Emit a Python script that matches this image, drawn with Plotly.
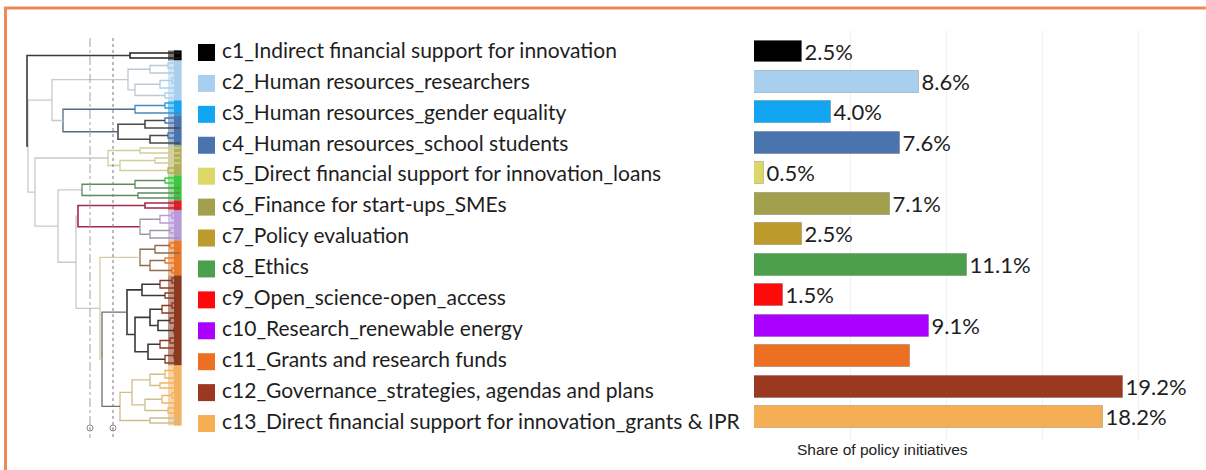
import plotly.graph_objects as go

# ---------------- data ----------------
codes = ["c1", "c2", "c3", "c4", "c5", "c6", "c7", "c8", "c9", "c10", "c11", "c12", "c13"]
categories = [
    "c1_Indirect financial support for innovation",
    "c2_Human resources_researchers",
    "c3_Human resources_gender equality",
    "c4_Human resources_school students",
    "c5_Direct financial support for innovation_loans",
    "c6_Finance for start-ups_SMEs",
    "c7_Policy evaluation",
    "c8_Ethics",
    "c9_Open_science-open_access",
    "c10_Research_renewable energy",
    "c11_Grants and research funds",
    "c12_Governance_strategies, agendas and plans",
    "c13_Direct financial support for innovation_grants & IPR",
]
shares = [2.5, 8.6, 4.0, 7.6, 0.5, 7.1, 2.5, 11.1, 1.5, 9.1, 8.1, 19.2, 18.2]
share_labels = ["2.5%", "8.6%", "4.0%", "7.6%", "0.5%", "7.1%", "2.5%", "11.1%",
                "1.5%", "9.1%", "", "19.2%", "18.2%"]
colors = ["#000000", "#a9cfee", "#12a6f2", "#4a74ad", "#dcd868", "#a2a04c", "#bc9a2c",
          "#4ca04c", "#ff0a0a", "#aa00ff", "#ec6f22", "#9a3820", "#f6ae55"]
axis_title = "Share of policy initiatives"

# dendrogram: leaf clusters (node = [height, left, right], leaf = L)
L = "leaf"
cluster_band = ["#000000", "#a9cfee", "#19a3f0", "#4a74ad", "#b2ae58", "#3cc83c",
                "#ee1c1c", "#b89ad8", "#e8782a", "#8b3a20", "#f3b262"]
cluster_line = ["#222222", "#b9c9d9", "#4a88b8", "#4a4a4a", "#cfcf9a", "#5c8a5c",
                "#a3284a", "#9a9aa8", "#8a6a4a", "#3a3a3a", "#cdbf8a"]
cluster_trees = [
    [50, L, L],
    [52, [30, [12, L, L], L], [45, [20, [8, L, L], L], [15, L, L]]],
    [45, [15, L, L], L],
    [62, [35, [15, L, L], L], [30, [12, L, L], L]],
    [72, [40, L, L], [60, [25, L, L], [12, L, L]]],
    [98, [45, [15, L, L], L], [42, L, L]],
    [35, L, L],
    [40, [20, [8, L, L], L], [30, [10, L, L], L]],
    [40, [25, [10, L, L], L], [30, [15, L, L], [8, L, L]]],
    [53, [38, [20, [8, L, L], L], [15, L, L]],
         [45, [30, [18, [8, L, L], L], [22, [10, L, L], [6, L, L]]],
              [32, [20, [10, L, L], L], [15, [6, L, L], L]]]],
    [60, [48, [30, [15, [6, L, L], L], [20, L, L]], [35, [18, [8, L, L], L], [12, L, L]]],
         [30, L, L]],
]
# upper tree: [height, colour, left, right]; ints refer to cluster_trees
upper_tree = [153, "#3a3a3a", 0,
              [152, "#c9c9c9",
               [128, "#c9c9c9", 1, [117, "#4d6b8a", 2, 3]],
               [145, "#c9c9c9", 4,
                [122, "#c9c9c9", 5,
                 [104, "#c9c9c9", [102, "#a3284a", 6, 7],
                  [80, "#d6cca6", 8, [78, "#6e6e6e", 9, 10]]]]]]]
cut_heights = [90, 67]

# ---------------- dendrogram layout ----------------
segs = {}
spans = []
counter = [0]


def add_seg(col, xs, ys):
    s = segs.setdefault(col, ([], []))
    s[0].extend(xs + [None])
    s[1].extend(ys + [None])


def place_cluster(node, ci):
    if node == L:
        y = counter[0]
        counter[0] += 1
        return 0.0, y
    d, a, b = node
    da, ya = place_cluster(a, ci)
    db, yb = place_cluster(b, ci)
    col = cluster_band[ci] if d <= 20 else cluster_line[ci]
    add_seg(col, [da, d, d, db], [ya, ya, yb, yb])
    return d, (ya + yb) / 2


def place_upper(node):
    if isinstance(node, int):
        start = counter[0]
        res = place_cluster(cluster_trees[node], node)
        spans.append((node, start, counter[0] - 1))
        return res
    d, col, a, b = node
    da, ya = place_upper(a)
    db, yb = place_upper(b)
    add_seg(col, [da, d, d, db], [ya, ya, yb, yb])
    return d, (ya + yb) / 2


place_upper(upper_tree)
n_leaves = counter[0]

W, H = 1206, 470
fig = go.Figure()

# leaf bands (shapes below the lines)
shapes = []
for ci, s, e in spans:
    shapes.append(dict(type="rect", xref="x", yref="y", x0=12, x1=-1.5,
                       y0=s - 0.5, y1=e + 0.5, fillcolor=cluster_band[ci],
                       line=dict(width=0), layer="below", opacity=0.55))
    shapes.append(dict(type="rect", xref="x", yref="y", x0=6, x1=-1.5,
                       y0=s - 0.5, y1=e + 0.5, fillcolor=cluster_band[ci],
                       line=dict(width=0), layer="below", opacity=1.0))

for col, (xs, ys) in segs.items():
    w = 1.6 if col in ("#3a3a3a", "#222222", "#4a4a4a", "#a3284a") else 1.3
    fig.add_trace(go.Scatter(x=xs, y=ys, mode="lines", line=dict(color=col, width=w),
                             hoverinfo="skip", showlegend=False, xaxis="x", yaxis="y"))

# cut lines
for k, h in enumerate(cut_heights):
    fig.add_trace(go.Scatter(x=[h, h], y=[-3, n_leaves + 2], mode="lines",
                             line=dict(color="#a0a0a0" if k == 0 else "#777777",
                                       width=1, dash="dashdot" if k == 0 else "dot"),
                             hoverinfo="skip", showlegend=False, xaxis="x", yaxis="y"))
fig.add_trace(go.Scatter(x=cut_heights, y=[n_leaves, n_leaves], mode="markers",
                         marker=dict(symbol="circle-open-dot", size=6, color="#888888",
                                     line=dict(width=1)),
                         hoverinfo="skip", showlegend=False, xaxis="x", yaxis="y"))

# legend squares + labels
rows = list(range(len(categories)))
fig.add_trace(go.Scatter(x=[206.5] * len(rows), y=rows, mode="markers",
                         marker=dict(symbol="square", size=17, color=colors,
                                     line=dict(width=0)),
                         hoverinfo="skip", showlegend=False, xaxis="x3", yaxis="y3"))
fig.add_trace(go.Scatter(x=[222] * len(rows), y=rows, mode="text", text=categories,
                         textposition="middle right",
                         textfont=dict(family="Lato", size=21, color="#1e1e1e"),
                         hoverinfo="skip", showlegend=False, xaxis="x3", yaxis="y3"))

# bars
fig.add_trace(go.Bar(x=shares, y=codes, orientation="h", width=0.72,
                     marker=dict(color=colors, line=dict(color="rgba(0,0,0,0.18)", width=1)),
                     text=share_labels, textposition="outside", cliponaxis=False,
                     constraintext="none",
                     textfont=dict(family="Lato", size=22, color="#1e1e1e"),
                     hoverinfo="skip", showlegend=False, xaxis="x2", yaxis="y2"))

# frame lines
col_frame = "#f08856"
shapes.append(dict(type="line", xref="paper", yref="paper", x0=5.5 / W, x1=5.5 / W,
                   y0=0, y1=1 - 7 / H, line=dict(color=col_frame, width=3)))
shapes.append(dict(type="line", xref="paper", yref="paper", x0=4 / W, x1=1,
                   y0=1 - 8 / H, y1=1 - 8 / H, line=dict(color=col_frame, width=3)))

row0, row_step = 52.5, 30.92
row_top = -row0 / row_step
row_bot = (H - row0) / row_step
bar_top = (30 - 51.5) / 30.46
bar_bot = (440 - 51.5) / 30.46

fig.update_layout(
    width=W, height=H, margin=dict(l=0, r=0, t=0, b=0),
    paper_bgcolor="white", plot_bgcolor="rgba(0,0,0,0)",
    shapes=shapes, bargap=0,
    xaxis=dict(domain=[25 / W, 182 / W], range=[155, -2], visible=False),
    yaxis=dict(domain=[0, 1], range=[(H - 53) / 5, -53 / 5], visible=False),
    xaxis2=dict(domain=[754 / W, 1], range=[0, 23.54], showgrid=True, gridcolor="#f1f1f1",
                dtick=5, showticklabels=False, zeroline=False, showline=False,
                ticks="", anchor="y2"),
    yaxis2=dict(domain=[1 - 440 / H, 1 - 30 / H], range=[bar_bot, bar_top], visible=False,
                anchor="x2", categoryorder="array", categoryarray=codes),
    xaxis3=dict(domain=[0, 1], range=[0, W], visible=False, anchor="y3"),
    yaxis3=dict(domain=[0, 1], range=[row_bot, row_top], visible=False, anchor="x3"),
    annotations=[dict(text=axis_title, xref="paper", yref="paper", x=882 / W, y=1 - 449 / H,
                      showarrow=False, xanchor="center", yanchor="middle",
                      font=dict(family="Liberation Sans", size=15.5, color="#222222"))],
)

fig.write_html("out.html", config={"displayModeBar": False},
               post_script="document.body.style.margin='0px';")
